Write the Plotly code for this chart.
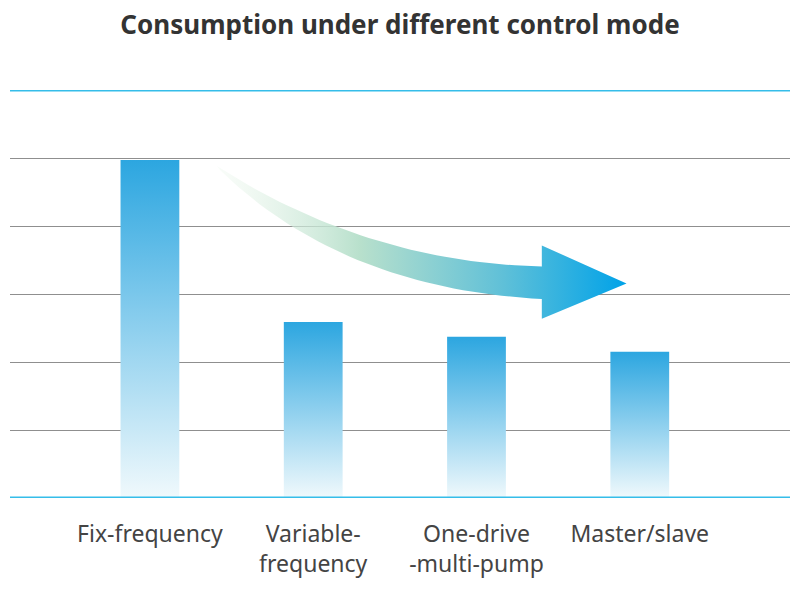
import numpy as np
import plotly.graph_objects as go

categories = ["Fix-frequency", "Variable-<br>frequency", "One-drive<br>-multi-pump", "Master/slave"]
values = [4.97, 2.59, 2.37, 2.15]

# page body has an 8px margin; work in page pixels and shift into the figure
OFF = 8
W, H = 800 - OFF, 609 - OFF
bar_w = 0.36
x_lo, x_hi = -0.857, 3.92

fig = go.Figure()

# gradient bars drawn as filled polygons
for i, v in enumerate(values):
    xs = [i - bar_w / 2, i + bar_w / 2, i + bar_w / 2, i - bar_w / 2, i - bar_w / 2]
    ys = [0, 0, v, v, 0]
    fig.add_trace(go.Scatter(
        x=xs, y=ys, mode="lines", fill="toself", line=dict(width=0),
        fillgradient=dict(type="vertical",
                          colorscale=[[0, "rgba(240,249,252,1)"], [1, "#2ca6e0"]]),
        hoverinfo="skip", showlegend=False))


# curved arrow in page-pixel space (decoration)
def bez(p0, p1, p2, n=40):
    t = np.linspace(0, 1, n)[:, None]
    p0, p1, p2 = map(np.array, (p0, p1, p2))
    return (1 - t) ** 2 * p0 + 2 * (1 - t) * t * p1 + t ** 2 * p2

upper = bez((218, 120), (370, 262), (548, 268))
lower = bez((222, 127), (345, 300), (548, 316))
head = np.array([(548, 268), (548, 237), (634, 293), (548, 345), (548, 316)])
poly = np.vstack([upper, head, lower[::-1], upper[:1]]) - OFF
fig.add_trace(go.Scatter(
    x=poly[:, 0], y=poly[:, 1], xaxis="x2", yaxis="y2", mode="lines",
    fill="toself", line=dict(width=0),
    fillgradient=dict(type="horizontal",
                      colorscale=[[0, "rgba(235,246,235,0.3)"], [0.35, "#b8e0cc"],
                                  [0.7, "#5fc0d8"], [1, "#00a2e8"]]),
    hoverinfo="skip", showlegend=False))

fig.update_layout(
    width=W, height=H, margin=dict(l=0, r=0, t=0, b=0),
    paper_bgcolor="white", plot_bgcolor="rgba(0,0,0,0)",
    font=dict(family="Noto Sans", color="#444444"),
    title=dict(text="<b>Consumption under different control mode</b>",
               x=(400 - OFF) / W, xanchor="center", y=1 - (25 - OFF) / H, yanchor="middle",
               font=dict(size=26, color="#333333")),
    xaxis=dict(domain=[(10 - OFF) / W, (790 - OFF) / W], range=[x_lo, x_hi],
               tickvals=list(range(len(categories))), ticktext=categories,
               tickfont=dict(size=23, color="#444444"), ticklabelstandoff=20,
               showgrid=False, zeroline=False, showline=False, ticks=""),
    yaxis=dict(domain=[(609 - 498) / H, (609 - 90) / H], range=[0, 6],
               dtick=1, showgrid=True, gridcolor="#8f8f8f", gridwidth=1,
               showticklabels=False, zeroline=False, ticks=""),
    xaxis2=dict(domain=[0, 1], range=[0, W], overlaying="x", visible=False),
    yaxis2=dict(domain=[0, 1], range=[H, 0], overlaying="y", visible=False),
    shapes=[dict(type="line", xref="paper", yref="y", x0=(10 - OFF) / W, x1=(790 - OFF) / W,
                 y0=yy, y1=yy, line=dict(color="#35bde9", width=3))
            for yy in (0, 6)],
)

fig.write_html("out.html")
